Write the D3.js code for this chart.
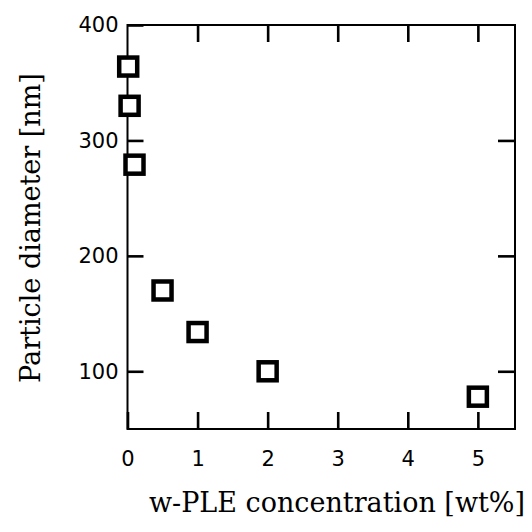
<!DOCTYPE html>
<html>
<head>
<meta charset="utf-8">
<script src="https://cdn.jsdelivr.net/npm/d3@7"></script>
<style>
  body { margin: 0; background: #fff; }
  .tick text { font-family: "DejaVu Sans", sans-serif; font-size: 21px; fill: #000; }
  .title { font-family: "DejaVu Serif", serif; font-size: 27px; fill: #000; }
</style>
</head>
<body>
<script>
// data
var conc = [0.01, 0.03, 0.1, 0.5, 1, 2, 5];          // w-PLE [wt%]
var diameter = [364, 330, 279, 170, 134, 100, 78];   // nm
var xTicks = [0, 1, 2, 3, 4, 5];
var yTicks = [100, 200, 300, 400];

var width = 532,
    height = 532;

var svg = d3.select("body").append("svg")
    .attr("width", width)
    .attr("height", height);

// scales
var x = d3.scaleLinear().domain([0, 5.53]).range([127.5, 515]);
var y = d3.scaleLinear().domain([50, 400]).range([429, 25]);

var x0 = x(0), x1 = x(5.53), y0 = y(50), y1 = y(400);
var fmt = d3.format("d");

// bottom axis with labels, ticks pointing in
svg.append("g")
    .attr("transform", "translate(0," + y0 + ")")
    .call(d3.axisBottom(x).tickValues(xTicks).tickFormat(fmt).tickSizeInner(-17).tickSizeOuter(0).tickPadding(22))
    .call(function(g) { g.select(".domain").remove(); });

// top axis, ticks only
svg.append("g")
    .attr("transform", "translate(0," + y1 + ")")
    .call(d3.axisTop(x).tickValues(xTicks.slice(1)).tickSizeInner(-17).tickSizeOuter(0).tickFormat(""))
    .call(function(g) { g.select(".domain").remove(); });

// left axis with labels
svg.append("g")
    .attr("transform", "translate(" + x0 + ",0)")
    .call(d3.axisLeft(y).tickValues(yTicks).tickFormat(fmt).tickSizeInner(-16).tickSizeOuter(0).tickPadding(9))
    .call(function(g) { g.select(".domain").remove(); });

// right axis, ticks only
svg.append("g")
    .attr("transform", "translate(" + x1 + ",0)")
    .call(d3.axisRight(y).tickValues(yTicks.slice(0, 3)).tickSizeInner(-17).tickSizeOuter(0).tickFormat(""))
    .call(function(g) { g.select(".domain").remove(); });

svg.selectAll(".tick line")
    .attr("stroke", "#000")
    .attr("stroke-width", 2.6);

// frame
svg.append("rect")
    .attr("x", x0)
    .attr("y", y1)
    .attr("width", x1 - x0)
    .attr("height", y0 - y1)
    .attr("fill", "none")
    .attr("stroke", "#000")
    .attr("stroke-width", 2);

// open square markers
var s = 18;
svg.append("g").selectAll("rect")
    .data(conc)
  .enter().append("rect")
    .attr("x", function(d) { return x(d) - s / 2; })
    .attr("y", function(d, i) { return y(diameter[i]) - s / 2; })
    .attr("width", s)
    .attr("height", s)
    .attr("fill", "#fff")
    .attr("stroke", "#000")
    .attr("stroke-width", 4.5);

// axis titles
svg.append("text")
    .attr("class", "title")
    .attr("x", 337)
    .attr("y", 512)
    .attr("text-anchor", "middle")
    .text("w-PLE concentration [wt%]");

svg.append("text")
    .attr("class", "title")
    .attr("transform", "translate(40,228) rotate(-90)")
    .attr("text-anchor", "middle")
    .text("Particle diameter [nm]");
</script>
</body>
</html>
